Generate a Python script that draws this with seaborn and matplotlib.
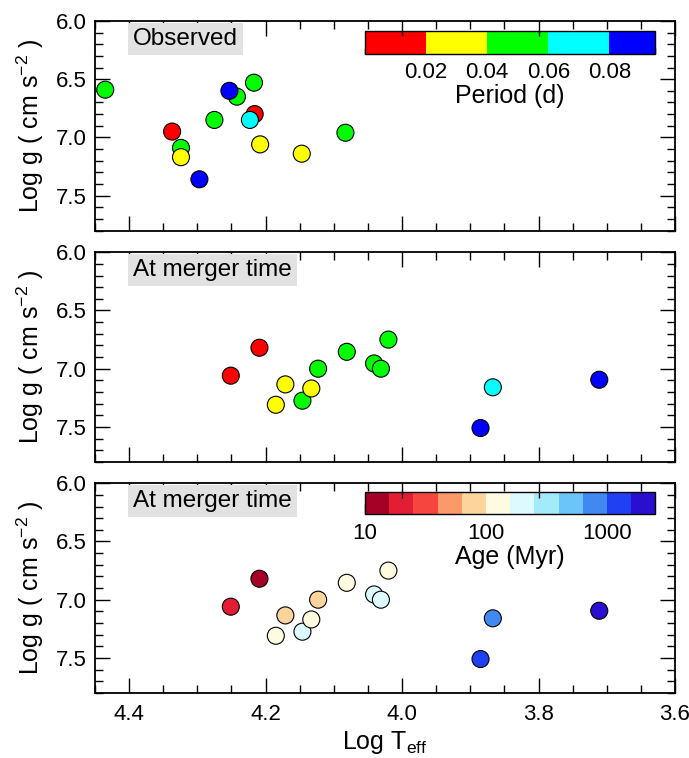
import matplotlib
matplotlib.use("Agg")
import matplotlib.pyplot as plt
import seaborn as sns
from matplotlib.colors import ListedColormap, Normalize, LogNorm
from matplotlib.cm import ScalarMappable
from matplotlib.ticker import MultipleLocator, FormatStrFormatter, LogLocator

# ---- observed sample ----
obs_logteff = [4.435, 4.337, 4.324, 4.324, 4.297, 4.275, 4.242, 4.253,
               4.217, 4.216, 4.223, 4.208, 4.147, 4.083]
obs_logg = [6.59, 6.95, 7.09, 7.17, 7.36, 6.85, 6.65, 6.60,
            6.53, 6.80, 6.85, 7.06, 7.14, 6.96]
obs_period = [0.048, 0.012, 0.045, 0.030, 0.088, 0.052, 0.043, 0.085,
              0.055, 0.016, 0.070, 0.025, 0.035, 0.050]

# ---- same systems at the time of the merger ----
mrg_logteff = [4.251, 4.209, 4.185, 4.146, 4.171, 4.133, 4.123, 4.081,
               4.041, 4.031, 4.020, 3.867, 3.885, 3.711]
mrg_logg = [7.06, 6.82, 7.31, 7.275, 7.135, 7.17, 7.00, 6.855,
            6.955, 7.00, 6.75, 7.16, 7.51, 7.095]
mrg_period = [0.016, 0.012, 0.030, 0.052, 0.025, 0.035, 0.045, 0.048,
              0.043, 0.055, 0.050, 0.070, 0.085, 0.088]
mrg_age = [20, 12, 120, 200, 80, 130, 75, 110,
           180, 220, 140, 800, 1200, 2000]

period_ticks = [0.02, 0.04, 0.06, 0.08]
period_tick_labels = ["0.02", "0.04", "0.06", "0.08"]
age_ticks = [10, 100, 1000]
age_tick_labels = ["10", "100", "1000"]

sns.set_theme(style="white")
plt.rcParams["font.family"] = ["Liberation Sans", "DejaVu Sans"]
plt.rcParams["mathtext.fontset"] = "custom"
plt.rcParams["mathtext.rm"] = "Liberation Sans"
plt.rcParams["mathtext.it"] = "Liberation Sans:italic"
for key in ("text.color", "axes.labelcolor", "xtick.color", "ytick.color",
            "axes.edgecolor"):
    plt.rcParams[key] = "black"

TICK_FS = 16
LABEL_FS = 18

# stepped rainbow for the period (0.005 d per entry, 0.02 d per colour)
period_cmap = ListedColormap(["#ff0000"] * 4 + ["#ffff00"] * 4 + ["#00ff00"] * 4
                             + ["#00ffff"] * 4 + ["#0000ff"] * 3)
period_norm = Normalize(0.0, 0.095)

# stepped red-to-blue scale for the age, 0.2 dex per colour
age_cmap = ListedColormap(["#a50026", "#e31d33", "#f6453f", "#fb9a69",
                           "#fdd49c", "#fffbe0", "#dcfaff", "#a3eafb",
                           "#6cc5f8", "#4188f0", "#2040f3", "#2a0fd0"])
age_norm = LogNorm(10, 10 ** 3.4)

fig = plt.figure(figsize=(6.89, 7.58), dpi=100)
W, H = 689, 758
left, width = 95 / W, 580 / W
tops = [21, 252.3, 483.3]
hgt = 209.5
axes = [fig.add_axes([left, 1 - (t + hgt) / H, width, hgt / H]) for t in tops]

panels = [
    (obs_logteff, obs_logg, obs_period, period_cmap, period_norm, "Observed"),
    (mrg_logteff, mrg_logg, mrg_period, period_cmap, period_norm, "At merger time"),
    (mrg_logteff, mrg_logg, mrg_age, age_cmap, age_norm, "At merger time"),
]

for i, (ax, (xs, ys, cvals, cmap, norm, label)) in enumerate(zip(axes, panels)):
    sns.scatterplot(x=xs, y=ys, hue=cvals, palette=cmap, hue_norm=norm,
                    s=150, edgecolor="black", linewidth=0.8, legend=False,
                    ax=ax, zorder=3)
    ax.set_xlim(4.45, 3.6)
    ax.set_ylim(7.8, 6.0)
    ax.xaxis.set_major_locator(MultipleLocator(0.2))
    ax.xaxis.set_minor_locator(MultipleLocator(0.05))
    ax.yaxis.set_major_locator(MultipleLocator(0.5))
    ax.yaxis.set_minor_locator(MultipleLocator(0.1))
    ax.xaxis.set_major_formatter(FormatStrFormatter("%.1f"))
    ax.yaxis.set_major_formatter(FormatStrFormatter("%.1f"))
    ax.tick_params(which="both", direction="in", top=True, right=True,
                   bottom=True, left=True, colors="black", labelsize=TICK_FS,
                   width=1.0)
    ax.tick_params(which="major", length=11, pad=6)
    ax.tick_params(which="minor", length=5.5)
    ax.tick_params(axis="x", which="major", pad=8)
    for sp in ax.spines.values():
        sp.set_color("black")
        sp.set_linewidth(1.3)
    if i < 2:
        ax.tick_params(labelbottom=False)
    ax.set_ylabel("Log g ( cm s$^{-2}$ )", fontsize=LABEL_FS, labelpad=7,
                  color="black")
    ax.text(0.066, 0.968, label, transform=ax.transAxes, ha="left", va="top",
            fontsize=17.5, zorder=4, color="black",
            bbox=dict(boxstyle="square,pad=0.2", fc="#e2e2e2", ec="none"))
    ax.set_facecolor("none")
    ax.set_zorder(2)

axes[2].set_xlabel("Log T$_{\\rm eff}$", fontsize=LABEL_FS, labelpad=3,
                   color="black")

# colour bars tucked into the upper right of the first and last panel
cb_left, cb_width = 365 / W, 290.3 / W
for ax, cmap, norm, ticks, ticklabels, title, cb_top in [
        (axes[0], period_cmap, period_norm, period_ticks,
         period_tick_labels, "Period (d)", 31),
        (axes[2], age_cmap, age_norm, age_ticks, age_tick_labels,
         "Age (Myr)", 491.7)]:
    cax = fig.add_axes([cb_left, 1 - (cb_top + 22.5) / H, cb_width, 22.5 / H])
    cax.set_zorder(1)
    sm = ScalarMappable(norm=norm, cmap=cmap)
    cb = fig.colorbar(sm, cax=cax, orientation="horizontal")
    cb.set_ticks(ticks, labels=ticklabels)
    if isinstance(norm, LogNorm):
        cax.xaxis.set_minor_locator(LogLocator(base=10, subs=range(2, 10)))
    else:
        cax.xaxis.set_minor_locator(MultipleLocator(0.005))
    cax.xaxis.set_ticks_position("bottom")
    cax.tick_params(which="both", direction="in", colors="black",
                    labelsize=TICK_FS, width=1.0)
    cax.tick_params(which="major", length=7, pad=6)
    cax.tick_params(which="minor", length=4)
    cb.outline.set_edgecolor("black")
    cb.outline.set_linewidth(1.0)
    cb.set_label(title, fontsize=LABEL_FS, labelpad=1, color="black")

fig.savefig("out.png", dpi=100)
